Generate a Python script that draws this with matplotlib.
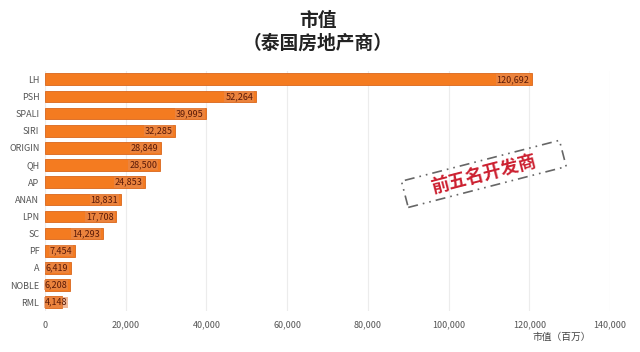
import matplotlib
matplotlib.use("Agg")
import matplotlib.pyplot as plt
from matplotlib.patches import FancyBboxPatch
import matplotlib.transforms as mtransforms

plt.rcParams['font.family'] = ['Noto Sans CJK SC', 'DejaVu Sans']

companies = ["LH", "PSH", "SPALI", "SIRI", "ORIGIN", "QH", "AP", "ANAN",
             "LPN", "SC", "PF", "A", "NOBLE", "RML"]
values = [120692, 52264, 39995, 32285, 28849, 28500, 24853, 18831,
          17708, 14293, 7454, 6419, 6208, 4148]
xticks = [0, 20000, 40000, 60000, 80000, 100000, 120000, 140000]

fig = plt.figure(figsize=(6.4, 3.52), dpi=100)
ax = fig.add_axes([0.0703, 0.117, 0.883, 0.682])

ypos = list(range(len(companies)))
ax.barh(ypos, values, height=0.68, color='#f47b20', edgecolor='#d9661c', linewidth=0.6, zorder=3)
ax.set_ylim(len(companies) - 0.5, -0.5)
ax.set_xlim(0, 140000)
ax.set_yticks(ypos)
ax.set_yticklabels(companies, fontsize=6.5, color='#555555')
ax.set_xticks(xticks)
ax.set_xticklabels([f"{t:,}" for t in xticks], fontsize=6.5, color='#555555')
ax.tick_params(length=0, pad=4)
ax.tick_params(axis='x', pad=7)
ax.grid(axis='x', color='#ececec', linewidth=0.8, zorder=0)
for s in ax.spines.values():
    s.set_visible(False)

for y, v in zip(ypos, values):
    x = max(v, 6200)
    ax.annotate(f"{v:,}", xy=(x, y), xytext=(-2, 0), textcoords='offset points',
                ha='right', va='center', fontsize=6.5, color='#5a1a08', zorder=5,
                bbox=dict(boxstyle='square,pad=0.1', facecolor='#e58a52', edgecolor='none', alpha=0.6))

fig.text(0.497, 0.943, "市值", ha='center', va='center', fontsize=13.5, fontweight='bold', color='#222222')
fig.text(0.497, 0.877, "（泰国房地产商）", ha='center', va='center', fontsize=13.5, fontweight='bold', color='#222222')
fig.text(0.878, 0.043, "市值（百万）", ha='center', va='center', fontsize=7, color='#444444')

# stamp
cx, cy = 0.756, 0.506
rot = 14.5
w, h = 0.255, 0.077
stamp = FancyBboxPatch((cx - w / 2, cy - h / 2), w, h, boxstyle='square,pad=0',
                       fill=False, edgecolor='#666666',
                       linewidth=1.2, linestyle=(0, (6, 3, 1, 3, 1, 3)))
tr = mtransforms.Affine2D().rotate_deg_around(cx * 640, cy * 352, rot)
stamp.set_transform(fig.transFigure + tr)
fig.add_artist(stamp)
fig.text(cx, cy, "前五名开发商", ha='center', va='center', fontsize=13, fontweight='bold',
         color='#cc2030', rotation=rot, rotation_mode='anchor')

fig.savefig("out.png", dpi=100, facecolor='white')
